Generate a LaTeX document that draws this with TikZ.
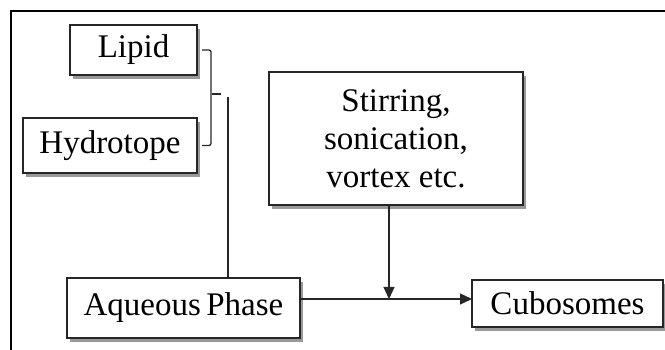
\documentclass[tikz,border=0pt]{standalone}
\usepackage{fontspec}
\setmainfont{Liberation Serif}
\usetikzlibrary{arrows.meta,positioning,shadows}

\begin{document}
\begin{tikzpicture}[x=1pt,y=-1pt,
  box/.style={draw=black!85,line width=1.4pt,fill=white,inner sep=0pt,outer sep=0pt,
    align=center,font=\fontsize{33}{38}\selectfont,
    drop shadow={shadow xshift=3pt,shadow yshift=-4pt,fill=black!40,opacity=1}},
  link/.style={line width=1.3pt,black!85},
  tip/.style={-{Triangle[length=12pt,width=11pt]}}]
  \useasboundingbox (0,0) rectangle (665,350);
  % frame (only top and left edges show)
  \draw[line width=2.2pt] (11,350) -- (11,11) -- (665,11);
  \node[box,minimum width=127pt,minimum height=50pt] (lipid) at (133.5,50) {Lipid};
  \node[box,minimum width=174pt,minimum height=55pt] (hydro) at (110,145.5) {Hydrotope};
  \node[box,minimum width=233pt,minimum height=60pt] (aq) at (183.5,308) {Aqueous\,Phase};
  \node[box,minimum width=254pt,minimum height=133pt] (stir) at (396,138.5) {Stirring,\\sonication,\\vortex etc.};
  \node[box,minimum width=191pt,minimum height=47pt] (cubo) at (567.5,303.5) {Cubosomes};
  \coordinate (tick) at (221,94);
  \coordinate (join) at (228,97);
  \coordinate (mix) at (389,299);
  % brace
  \draw[link,rounded corners=2pt] ([xshift=5pt]lipid.east) -- ++(9,0) |- ([xshift=5pt]hydro.east);
  \draw[link] (212,94) -- (tick);
  \draw[link] (join) -- (join |- aq.north);
  \draw[link] (aq.east |- mix) -- (mix);
  \draw[link,tip] (mix) -- (cubo.west |- mix);
  \draw[link,tip] (stir.south -| mix) -- (mix);
\end{tikzpicture}
\end{document}
